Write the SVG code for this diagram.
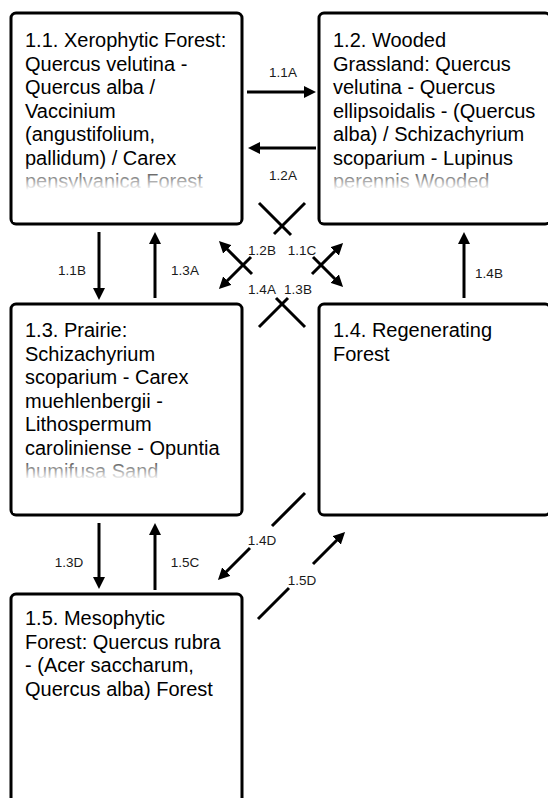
<svg xmlns="http://www.w3.org/2000/svg" width="548" height="798" viewBox="0 0 548 798">
<style>
.box{fill:#fff;stroke:#000;stroke-width:3}
.t{font-family:"Liberation Sans",Arial,sans-serif;font-size:20px;fill:#000}
.lbl{font-family:"Liberation Sans",Arial,sans-serif;font-size:13.5px;fill:#1a1a1a;text-anchor:middle}
.c{fill:none;stroke:#000;stroke-width:3;marker-end:url(#ah)}
</style>
<defs>
<marker id="ah" viewBox="0 0 12 12" refX="2" refY="6" markerWidth="12" markerHeight="12" markerUnits="userSpaceOnUse" orient="auto">
<path d="M0,0 L12,6 L0,12 z" fill="#000"/>
</marker>
<linearGradient id="fade" x1="0" y1="0" x2="0" y2="1">
<stop offset="0" stop-color="#fff" stop-opacity="0"/>
<stop offset="1" stop-color="#fff" stop-opacity="1"/>
</linearGradient>
</defs>
<rect width="548" height="798" fill="#fff"/>

<g id="n11">
<rect class="box" x="11" y="13" width="231" height="211" rx="5"/>
<text class="t" x="25" y="47">1.1. Xerophytic Forest:</text>
<text class="t" x="25" y="70.5">Quercus velutina -</text>
<text class="t" x="25" y="94">Quercus alba /</text>
<text class="t" x="25" y="117.5">Vaccinium</text>
<text class="t" x="25" y="141">(angustifolium,</text>
<text class="t" x="25" y="164.5">pallidum) / Carex</text>
<text class="t" x="25" y="188">pensylvanica Forest</text>
<rect x="13" y="163" width="227" height="27" fill="url(#fade)"/>
<rect x="13" y="190" width="227" height="32" fill="#fff"/>
</g>

<g id="n12">
<rect class="box" x="319" y="13" width="231" height="211" rx="5"/>
<text class="t" x="333" y="47">1.2. Wooded</text>
<text class="t" x="333" y="70.5">Grassland: Quercus</text>
<text class="t" x="333" y="94">velutina - Quercus</text>
<text class="t" x="333" y="117.5">ellipsoidalis - (Quercus</text>
<text class="t" x="333" y="141">alba) / Schizachyrium</text>
<text class="t" x="333" y="164.5">scoparium - Lupinus</text>
<text class="t" x="333" y="188">perennis Wooded</text>
<rect x="321" y="163" width="227" height="27" fill="url(#fade)"/>
<rect x="321" y="190" width="227" height="32" fill="#fff"/>
</g>

<g id="n13">
<rect class="box" x="11" y="304" width="231" height="211" rx="5"/>
<text class="t" x="25" y="337">1.3. Prairie:</text>
<text class="t" x="25" y="360.5">Schizachyrium</text>
<text class="t" x="25" y="384">scoparium - Carex</text>
<text class="t" x="25" y="407.5">muehlenbergii -</text>
<text class="t" x="25" y="431">Lithospermum</text>
<text class="t" x="25" y="454.5">caroliniense - Opuntia</text>
<text class="t" x="25" y="478">humifusa Sand</text>
<rect x="13" y="453" width="227" height="27" fill="url(#fade)"/>
<rect x="13" y="480" width="227" height="33" fill="#fff"/>
</g>

<g id="n14">
<rect class="box" x="319" y="304" width="231" height="211" rx="5"/>
<text class="t" x="333" y="337">1.4. Regenerating</text>
<text class="t" x="333" y="360.5">Forest</text>
</g>

<g id="n15">
<rect class="box" x="11" y="594" width="231" height="211" rx="5"/>
<text class="t" x="25" y="625">1.5. Mesophytic</text>
<text class="t" x="25" y="648.5">Forest: Quercus rubra</text>
<text class="t" x="25" y="672">- (Acer saccharum,</text>
<text class="t" x="25" y="695.5">Quercus alba) Forest</text>
</g>

<g id="connectors">
<path class="c" d="M247,92 L306,92"/>
<path class="c" d="M316,148 L258,148"/>
<path class="c" d="M99,232 L99,290"/>
<path class="c" d="M155,298 L155,242"/>
<path class="c" d="M464,298 L464,242"/>
<path class="c" d="M99,523 L99,579"/>
<path class="c" d="M155,590 L155,533"/>
<path class="c" d="M305,203 L274,234 M251,257 L226,282"/>
<path class="c" d="M259,203 L291,235 M313,257 L336,280"/>
<path class="c" d="M305,327 L276,298 M252,274 L226,248"/>
<path class="c" d="M259,327 L288,298 M312,274 L336,250"/>
<path class="c" d="M305,493 L272,526 M250,548 L225,573"/>
<path class="c" d="M258,619 L289,588 M313,564 L338,539"/>
<text class="lbl" x="283" y="77">1.1A</text>
<text class="lbl" x="283" y="180">1.2A</text>
<text class="lbl" x="72" y="275">1.1B</text>
<text class="lbl" x="185" y="275">1.3A</text>
<text class="lbl" x="489" y="278">1.4B</text>
<text class="lbl" x="69" y="567">1.3D</text>
<text class="lbl" x="185" y="567">1.5C</text>
<text class="lbl" x="262" y="255">1.2B</text>
<text class="lbl" x="302" y="255">1.1C</text>
<text class="lbl" x="262" y="294">1.4A</text>
<text class="lbl" x="298" y="294">1.3B</text>
<text class="lbl" x="262" y="545">1.4D</text>
<text class="lbl" x="302" y="585">1.5D</text>
</g>
</svg>
